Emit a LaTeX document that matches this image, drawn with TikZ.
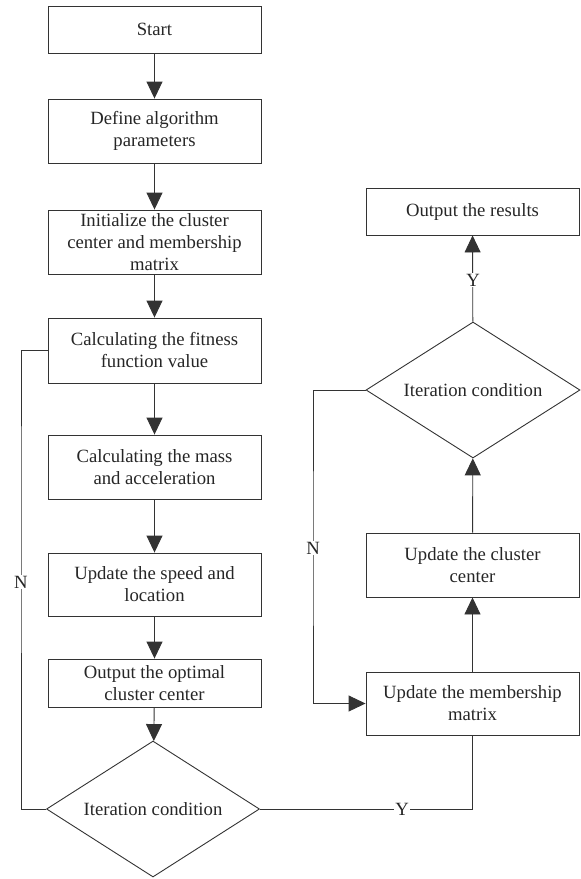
\documentclass[tikz,border=0pt]{standalone}
\usepackage{fontspec}
\setmainfont{Liberation Serif}
\usetikzlibrary{shapes.geometric,arrows.meta}

\begin{document}
\begin{tikzpicture}[x=1pt, y=-1pt,
    txt/.style={font=\fontsize{18.7}{22}\selectfont, text=black!85},
    box/.style={txt, draw=black!80, line width=0.9pt, minimum width=213pt, inner sep=0pt, align=center},
    cond/.style={txt, draw=black!80, line width=0.9pt, diamond, aspect=1.57, minimum width=213pt, minimum height=136pt, inner sep=0pt},
    line/.style={draw=black!80, line width=0.9pt},
    arr/.style={line, -{Triangle[length=17pt,width=16pt]}},
    lbl/.style={txt, fill=white, inner sep=1pt}]
    \useasboundingbox (0,0) rectangle (581,879);

    % left column
    \node[box, minimum height=47pt] (start) at (154.5,29.5) {Start};
    \node[box, minimum height=64pt] (define) at (154.5,131) {Define algorithm\\parameters};
    \node[box, minimum height=64pt] (init) at (154.5,242) {Initialize the cluster\\center and membership\\matrix};
    \node[box, minimum height=65pt] (fit) at (154.5,350.5) {Calculating the fitness\\function value};
    \node[box, minimum height=64pt] (mass) at (154.5,467) {Calculating the mass\\and acceleration};
    \node[box, minimum height=63pt] (speed) at (154.5,584.5) {Update the speed and\\location};
    \node[box, minimum height=48pt] (optc) at (154.5,683) {Output the optimal\\cluster center};
    \node[cond] (cond1) at (153,809) {Iteration condition};

    % right column
    \node[box, minimum height=47pt] (result) at (472.5,211.5) {Output the results};
    \node[cond, minimum width=214pt] (cond2) at (473,390) {Iteration condition};
    \node[box, minimum height=64pt] (clus) at (472.5,565) {Update the cluster\\center};
    \node[box, minimum height=63pt] (memb) at (472.5,703.5) {Update the membership\\matrix};

    \draw[arr] (start) -- (define);
    \draw[arr] (define) -- (init);
    \draw[arr] (init) -- (fit);
    \draw[arr] (fit) -- (mass);
    \draw[arr] (mass) -- (speed);
    \draw[arr] (speed) -- (optc);
    \draw[arr] (optc) -- (cond1);

    \draw[line] (cond1.west) -| (21,500) |- (fit.west);
    \draw[line] (cond1.east) -| (memb.south);
    \draw[arr] (memb) -- (clus);
    \draw[arr] (clus) -- (cond2);
    \draw[arr] (cond2) -- (result);
    \draw[arr] (cond2.west) -| (313,550) |- (memb.west);

    \node[lbl] (nleft) at (21,582) {N};
    \node[lbl] (yleft) at (402,809) {Y};
    \node[lbl] (nright) at (313,548) {N};
    \node[lbl] (yright) at (473,280) {Y};
\end{tikzpicture}
\end{document}
